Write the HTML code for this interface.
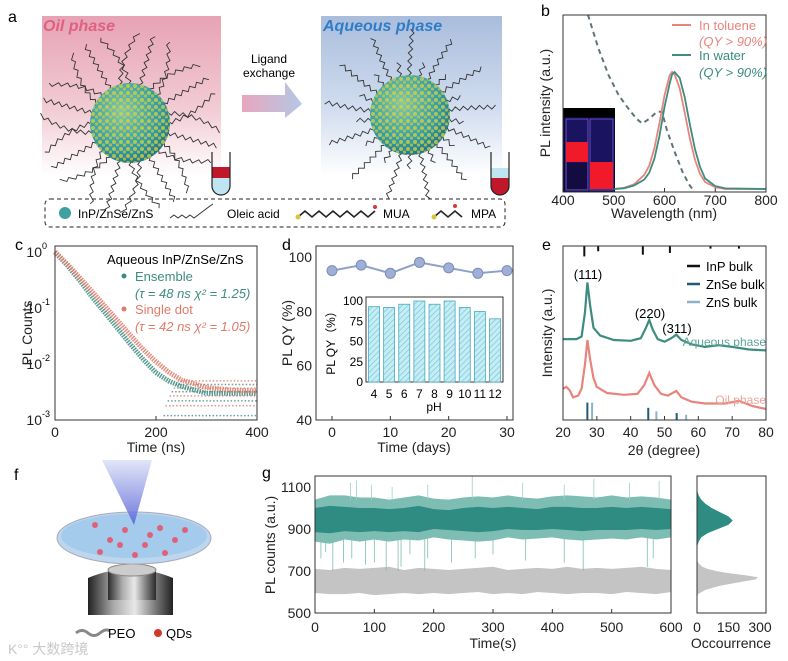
<!DOCTYPE html>
<html><head><meta charset="utf-8">
<style>
html,body{margin:0;padding:0;background:#fff;}
svg{display:block;font-family:"Liberation Sans","Noto Sans CJK SC",sans-serif;}
.t{font-size:14px;fill:#222;}
.s{font-size:13px;fill:#222;}
.ax{fill:none;stroke:#333;stroke-width:1;}
</style></head>
<body>
<svg id="fig" width="788" height="661" viewBox="0 0 788 661">
<defs>
  <linearGradient id="oilg" x1="0" y1="0" x2="0" y2="1"><stop offset="0" stop-color="#e7a2b6"/><stop offset="0.6" stop-color="#f2cdd6"/><stop offset="1" stop-color="#fff"/></linearGradient>
  <linearGradient id="aqg" x1="0" y1="0" x2="0" y2="1"><stop offset="0" stop-color="#a9bddc"/><stop offset="0.6" stop-color="#d3def0"/><stop offset="1" stop-color="#fff"/></linearGradient>
  <linearGradient id="arrg" x1="0" y1="0" x2="1" y2="0"><stop offset="0" stop-color="#e9a6be"/><stop offset="1" stop-color="#b4c8e4"/></linearGradient>
  <radialGradient id="qdg" cx="0.4" cy="0.35" r="0.7"><stop offset="0" stop-color="#7ec8b0"/><stop offset="0.7" stop-color="#2f9aa8"/><stop offset="1" stop-color="#1f6f80"/></radialGradient>
  <pattern id="dots" width="7" height="7" patternUnits="userSpaceOnUse"><circle cx="2" cy="2" r="2" fill="#d9d33a"/><circle cx="5.5" cy="5" r="1.6" fill="#c9c840"/></pattern>
  <pattern id="hatch" width="4" height="4" patternUnits="userSpaceOnUse" patternTransform="rotate(45)"><rect width="4" height="4" fill="#c6edf4"/><line x1="0" y1="0" x2="0" y2="4" stroke="#6cc3d6" stroke-width="1.2"/></pattern>
  <linearGradient id="coneg" x1="0" y1="0" x2="0" y2="1"><stop offset="0" stop-color="#dde2f6"/><stop offset="1" stop-color="#5560d8"/></linearGradient>
  <linearGradient id="objg" x1="0" y1="0" x2="1" y2="0"><stop offset="0" stop-color="#222"/><stop offset="0.3" stop-color="#aaa"/><stop offset="0.55" stop-color="#e8e8e8"/><stop offset="0.8" stop-color="#777"/><stop offset="1" stop-color="#222"/></linearGradient>
</defs>

<!-- Panel a -->
<g>
  <text x="8" y="22" font-size="16">a</text>
  <rect x="42" y="16" width="179" height="160" fill="url(#oilg)"/>
  <rect x="321" y="16" width="181" height="160" fill="url(#aqg)"/>
  <text x="43" y="31" font-size="16" font-weight="bold" font-style="italic" fill="#e0607e">Oil phase</text>
  <text x="323" y="31" font-size="16" font-weight="bold" font-style="italic" fill="#2f7dc6">Aqueous phase</text>
  <g id="ligands"></g>
  <circle cx="130" cy="123" r="40" fill="url(#qdg)"/>
  <circle cx="130" cy="123" r="40" fill="url(#dots)" opacity="0.75"/>
  <circle cx="410" cy="115" r="40" fill="url(#qdg)"/>
  <circle cx="410" cy="115" r="40" fill="url(#dots)" opacity="0.75"/>
  <text x="269" y="63" font-size="12" text-anchor="middle">Ligand</text>
  <text x="269" y="77" font-size="12" text-anchor="middle">exchange</text>
  <path d="M242,95 L285,95 L285,82 L302,104 L285,118 L285,112 L242,112 Z" fill="url(#arrg)"/>
  <g>
    <rect x="212" y="167" width="18" height="11" fill="#c0182a"/>
    <path d="M212,178 L230,178 L230,186 A9,9 0 0 1 212,186 Z" fill="#bfe4f2"/>
    <path d="M212,152 L212,186 A9,9 0 0 0 230,186 L230,152" fill="none" stroke="#222" stroke-width="1.2"/>
  </g>
  <g>
    <rect x="491" y="168" width="18" height="10" fill="#bfe4f2"/>
    <path d="M491,178 L509,178 L509,186 A9,9 0 0 1 491,186 Z" fill="#c0182a"/>
    <path d="M491,152 L491,186 A9,9 0 0 0 509,186 L509,152" fill="none" stroke="#222" stroke-width="1.2"/>
  </g>
  <rect x="45" y="199" width="460" height="28" rx="5" fill="none" stroke="#222" stroke-dasharray="4,3"/>
  <circle cx="65" cy="213" r="6" fill="#3ea0a0"/>
  <text x="78" y="218" font-size="12">InP/ZnSe/ZnS</text>
  <polyline points="170,218 174,215 178,218 182,215 186,218 190,215 194,218 198,215 202,212 206,209 210,206 213,204" fill="none" stroke="#333" stroke-width="1"/>
  <text x="227" y="218" font-size="12">Oleic acid</text>
  <polyline points="298,217 305,211 312,217 319,211 326,217 333,211 340,217 347,211 354,217 361,211 368,217 375,211" fill="none" stroke="#222" stroke-width="1.6"/>
  <circle cx="298" cy="217" r="2.5" fill="#d9c53a"/><circle cx="375" cy="207" r="2" fill="#d33"/>
  <text x="383" y="218" font-size="12">MUA</text>
  <polyline points="434,217 441,211 448,217 455,211 462,217" fill="none" stroke="#222" stroke-width="1.6"/>
  <circle cx="434" cy="217" r="2.5" fill="#d9c53a"/><circle cx="455" cy="206" r="2" fill="#d33"/>
  <text x="471" y="218" font-size="12">MPA</text>
</g>

<!-- Panel b -->
<g>
  <text x="541" y="16" font-size="16">b</text>
  <g>
    <rect x="563" y="108" width="52" height="84" fill="#0a0830"/>
    <rect x="563" y="108" width="52" height="9" fill="#000"/>
    <rect x="566" y="119" width="22" height="71" fill="#1a1460" stroke="#6a50d0" stroke-width="1"/>
    <rect x="590" y="119" width="23" height="71" fill="#1a1460" stroke="#6a50d0" stroke-width="1"/>
    <rect x="566" y="142" width="22" height="20" fill="#f01a2a"/>
    <rect x="590" y="162" width="23" height="27" fill="#f01a2a"/>
    <rect x="567" y="163" width="20" height="26" fill="#120c40"/>
  </g>
  <g id="b-marks"></g>
  <rect x="563" y="15" width="203" height="177" class="ax"/>
  <g id="b-ticks"></g>
  <text x="664" y="218" class="t" text-anchor="middle">Wavelength (nm)</text>
  <text transform="translate(550,103) rotate(-90)" class="t" text-anchor="middle">PL intensity (a.u.)</text>
  <line x1="672" y1="25" x2="691" y2="25" stroke="#e8847c" stroke-width="2"/>
  <text x="699" y="30" font-size="13" fill="#e8847c">In toluene</text>
  <text x="699" y="46" font-size="13" fill="#e8847c" font-style="italic">(QY &gt; 90%)</text>
  <line x1="672" y1="55" x2="691" y2="55" stroke="#3c8c80" stroke-width="2"/>
  <text x="699" y="60" font-size="13" fill="#3c8c80">In water</text>
  <text x="699" y="77" font-size="13" fill="#3c8c80" font-style="italic">(QY &gt; 90%)</text>
</g>

<!-- Panel c -->
<g>
  <text x="15" y="250" font-size="16">c</text>
  <g id="c-marks"></g>
  <rect x="55" y="246" width="202" height="174" class="ax"/>
  <g id="c-ticks"></g>
  <text x="156" y="452" class="t" text-anchor="middle">Time (ns)</text>
  <text transform="translate(32,333) rotate(-90)" class="t" text-anchor="middle">PL Counts</text>
  <text x="107" y="264" font-size="13">Aqueous InP/ZnSe/ZnS</text>
  <circle cx="124" cy="276" r="2.5" fill="#3c8c80"/>
  <text x="135" y="281" font-size="13" fill="#3c8c80">Ensemble</text>
  <text x="135" y="298" font-size="13" fill="#3c8c80" font-style="italic">(τ = 48 ns  χ² = 1.25)</text>
  <circle cx="124" cy="309" r="2.5" fill="#e07a6a"/>
  <text x="135" y="314" font-size="13" fill="#e07a6a">Single dot</text>
  <text x="135" y="331" font-size="13" fill="#e07a6a" font-style="italic">(τ = 42 ns  χ² = 1.05)</text>
</g>

<!-- Panel d -->
<g>
  <text x="282" y="250" font-size="16">d</text>
  <rect x="316" y="246" width="197" height="174" class="ax"/>
  <g id="d-marks"></g>
  <g id="d-ticks"></g>
  <text x="414" y="452" class="t" text-anchor="middle">Time (days)</text>
  <text transform="translate(292,333) rotate(-90)" class="t" text-anchor="middle">PL QY (%)</text>
  <rect x="366" y="297" width="137" height="85" fill="#fff" class="ax"/>
  <g id="di-marks"></g>
  <g id="di-ticks"></g>
  <text x="434" y="411" font-size="12" text-anchor="middle">pH</text>
  <text transform="translate(335,340) rotate(-90)" font-size="12" text-anchor="middle">PL QY（%）</text>
</g>

<!-- Panel e -->
<g>
  <text x="542" y="250" font-size="16">e</text>
  <g id="e-marks"></g>
  <rect x="563" y="246" width="203" height="174" class="ax"/>
  <g id="e-ticks"></g>
  <text x="664" y="455" class="t" text-anchor="middle">2θ (degree)</text>
  <text transform="translate(552,333) rotate(-90)" class="t" text-anchor="middle">Intensity (a.u.)</text>
  <text x="588" y="279" font-size="13" text-anchor="middle">(111)</text>
  <text x="650" y="318" font-size="13" text-anchor="middle">(220)</text>
  <text x="677" y="333" font-size="13" text-anchor="middle">(311)</text>
  <text x="766" y="346" font-size="12" text-anchor="end" fill="#5fa595">Aqueous phase</text>
  <text x="766" y="404" font-size="12" text-anchor="end" fill="#eaa49c">Oil phase</text>
  <line x1="687" y1="266" x2="700" y2="266" stroke="#111" stroke-width="2.5"/>
  <text x="706" y="271" font-size="13">InP bulk</text>
  <line x1="687" y1="284" x2="700" y2="284" stroke="#1f5a78" stroke-width="2.5"/>
  <text x="706" y="289" font-size="13">ZnSe bulk</text>
  <line x1="687" y1="302" x2="700" y2="302" stroke="#8db2c8" stroke-width="2.5"/>
  <text x="706" y="307" font-size="13">ZnS bulk</text>
</g>

<!-- Panel f -->
<g>
  <text x="14" y="480" font-size="16">f</text>
  <g>
    <path d="M88,578 Q130,560 173,578 L173,615 L88,615 Z" fill="url(#objg)"/>
    <rect x="108" y="570" width="48" height="30" fill="url(#objg)" opacity="0.9"/>
    <ellipse cx="132" cy="570" rx="24" ry="6" fill="#ccc" stroke="#888"/>
  </g>
  <ellipse cx="134" cy="538" rx="77" ry="26" fill="#bcd6ee" stroke="#aab"/>
  <ellipse cx="134" cy="536" rx="73" ry="22" fill="#9ec8ea" opacity="0.8"/>
  <g id="qd-dots"></g>
  <path d="M102,460 L152,460 L134,525 Z" fill="url(#coneg)" opacity="0.85"/>
  <path d="M76,633 q6,-5 12,0 t12,0 t10,-2" fill="none" stroke="#888" stroke-width="3"/>
  <text x="108" y="638" font-size="13">PEO</text>
  <circle cx="158" cy="633" r="4" fill="#d03a2a"/>
  <text x="166" y="638" font-size="13">QDs</text>
  <text x="8" y="654" font-size="14" fill="#c8c8c8">K°° 大数跨境</text>
</g>

<!-- Panel g -->
<g>
  <text x="262" y="478" font-size="16">g</text>
  <g id="g-marks"></g>
  <rect x="315" y="476" width="356" height="137" class="ax"/>
  <rect x="697" y="476" width="69" height="137" class="ax"/>
  <g id="g-ticks"></g>
  <text x="493" y="648" class="t" text-anchor="middle">Time(s)</text>
  <text x="731" y="648" class="t" text-anchor="middle">Occourrence</text>
  <text transform="translate(275,545) rotate(-90)" class="t" text-anchor="middle">PL counts (a.u.)</text>
</g>
</svg>

<script>
// ---------- Panel b data ----------
const bWave = [500,520,540,560,570,580,590,600,610,615,620,630,640,650,660,670,680,700,720,800];
const bToluene = [0,0.01,0.04,0.12,0.2,0.35,0.56,0.8,0.97,1.0,0.98,0.86,0.65,0.43,0.25,0.13,0.06,0.015,0,0];
const bWater = [0,0.005,0.03,0.08,0.14,0.26,0.45,0.7,0.9,0.98,1.0,0.95,0.78,0.55,0.34,0.19,0.09,0.025,0.005,0];
const bAbsWave = [449,470,490,510,530,545,556,570,585,595,605,620,635,648,655];
const bAbs = [1.49,1.2,0.97,0.8,0.68,0.6,0.56,0.6,0.66,0.66,0.5,0.32,0.15,0.04,0];
const bXTicks = [400,500,600,700,800];
// ---------- Panel c data ----------
const cTimes = [0,25,50,75,100,125,150,175,200,225,250,300,350,400];
const cEnsemble = [1,0.57,0.3,0.15,0.08,0.042,0.022,0.012,0.007,0.005,0.004,0.003,0.003,0.003];
const cSingle = [1,0.6,0.34,0.19,0.105,0.058,0.032,0.018,0.011,0.0072,0.0052,0.0038,0.0034,0.0033];
const cFloorLevels = [0.0012,0.0018,0.0022,0.0027,0.0032,0.0037,0.0043,0.005];
const cXTicks = [0,200,400];
const cYTicks = [-3,-2,-1,0];
// ---------- Panel d data ----------
const dDays = [0,5,10,15,20,25,30];
const dQY = [95,97,94,98,96,94,95];
const dXTicks = [0,10,20,30];
const dYTicks = [40,60,80,100];
const pH = [4,5,6,7,8,9,10,11,12];
const pHQY = [93,92,96,100,96,100,92,87,78];
const inYTicks = [0,25,50,75,100];
// ---------- Panel e data ----------
const eAqTheta = [20,24,25.5,26.5,27.2,28,29,31,35,40,43,44.5,45.5,46.5,48,50,52,53.5,55,58,62,66,70,75,80];
const eAqI = [46.5,46.5,48,62,79,66,53,48.5,46,45.5,47,53,57.5,52,46.5,45,47,49,46,43.5,42,43,42,40.5,40];
const eOilTheta = [20,21,22,23,24.5,25.5,26.5,27.2,28,29,30,33,38,42,44,45.5,47,49,51,53.5,55,58,62,68,72,76,80];
const eOilI = [18,19,17,13,14,18,32,46,35,24,19,15.5,14.5,15,20,27,20,15,14,16.7,13,10.5,9.5,9.5,11,8,6.3];
const eInP = [26.3,30.4,43.6,51.6,63.6,72];
const eInPH = [6,3,5,4,1.5,1.5];
const eZnSe = [27.2,45.2,53.6];
const eZnSeH = [10,7,4];
const eZnS = [28.6,47.6,56.4];
const eZnSH = [10,5,3];
const eXTicks = [20,30,40,50,60,70,80];
// ---------- Panel g data ----------
const gTimes = [0,25,50,75,100,125,150,175,200,225,250,275,300,325,350,375,400,425,450,475,500,525,550,575,600];
const gTealHi = [1040,1060,1060,1050,1050,1040,1050,1060,1045,1040,1050,1055,1050,1060,1050,1045,1055,1060,1055,1050,1060,1050,1055,1050,1040];
const gTealLo = [840,830,850,840,850,840,850,845,860,850,845,840,845,860,850,855,860,850,845,850,855,850,860,850,860];
const gTealQ3 = [1000,1010,1005,1000,1000,995,1000,1010,995,990,1000,1005,1000,1005,1000,995,1005,1005,1000,1000,1005,1000,1005,1000,995];
const gTealQ1 = [885,880,890,885,890,885,890,885,900,895,890,885,890,900,895,895,900,895,890,895,895,895,900,895,900];
const gGrayHi = [710,705,715,710,715,720,705,715,710,705,710,715,720,705,710,715,710,720,710,715,710,715,720,710,705];
const gGrayLo = [595,590,590,595,585,590,595,590,595,590,595,600,590,595,590,600,595,590,595,595,590,600,595,590,600];
const gDownT = [10,18,30,48,62,85,100,120,140,145,160,185,190,230,270,300,355,420,452,560,570];
const gDownV = [760,790,700,740,760,730,740,700,700,720,780,700,760,740,760,780,750,740,700,720,760];
const gUpT = [60,70,95,130,190,265,350,420,470,530,580];
const gUpV = [1120,1130,1110,1100,1110,1150,1120,1110,1140,1120,1130];
const hTealBins = [800,820,840,860,880,900,920,940,960,980,1000,1020,1040,1060,1080,1100];
const hTealCount = [0,2,8,20,50,100,150,170,150,110,70,40,20,8,2,0];
const hGrayBins = [570,590,610,630,650,660,670,680,690,700,710,720,740,760];
const hGrayCount = [0,5,40,110,220,280,290,230,150,90,50,25,5,0];
const gXTicks = [0,100,200,300,400,500,600];
const gYTicks = [500,700,900,1100];
const hXTicks = [0,150,300];

const NS = 'http://www.w3.org/2000/svg';
function mk(parent, tag, attrs, text) {
  const el = document.createElementNS(NS, tag);
  for (const k in attrs) el.setAttribute(k, attrs[k]);
  if (text !== undefined) el.textContent = text;
  document.getElementById(parent).appendChild(el);
  return el;
}
function pts(xs, ys, fx, fy) { return xs.map((x, i) => fx(x).toFixed(1) + ',' + fy(ys[i]).toFixed(1)).join(' '); }

// ---------- Panel a decorative ligands ----------
(function(){
  function chain(cx, cy, r, ang, len, bend, color) {
    let p = [];
    const n = Math.floor(len / 4);
    for (let i = 0; i <= n; i++) {
      const a = ang + bend * i / n;
      const rr = r + i * 4;
      const off = (i % 2 ? 2 : -2);
      p.push((cx + rr * Math.cos(a) - off * Math.sin(a)).toFixed(1) + ',' + (cy + rr * Math.sin(a) + off * Math.cos(a)).toFixed(1));
    }
    const el = mk('ligands', 'polyline', {points: p.join(' '), fill: 'none', stroke: color, 'stroke-width': 0.9});
    
    
  }
  for (let i = 0; i < 24; i++) chain(130, 123, 38, i * Math.PI * 2 / 24, 52, (i % 3 - 1) * 0.35, '#333');
  for (let i = 0; i < 26; i++) chain(410, 115, 38, i * Math.PI * 2 / 26 + 0.1, i % 2 ? 50 : 18, 0.05, '#333');
})();

// ---------- Panel b ----------
const bx = w => 563 + (w - 400) / 400 * 203;
const by = v => 189 - v * 117;
let el;
el = mk('b-marks', 'polyline', {points: pts(bAbsWave, bAbs, bx, by), fill: 'none', stroke: '#5f7478', 'stroke-width': 2, 'stroke-dasharray': '5,4'});


el = mk('b-marks', 'polyline', {points: pts(bWave, bToluene, bx, by), fill: 'none', stroke: '#e8847c', 'stroke-width': 1.8});


el = mk('b-marks', 'polyline', {points: pts(bWave, bWater, bx, by), fill: 'none', stroke: '#3c8c80', 'stroke-width': 1.8});


bXTicks.forEach(t => {
  el = mk('b-ticks', 'line', {x1: bx(t), x2: bx(t), y1: 192, y2: 188, stroke: '#333'});
  
  
  el = mk('b-ticks', 'text', {x: bx(t), y: 205, class: 't', 'text-anchor': 'middle'}, t);
  
  
});

// ---------- Panel c ----------
const cx = t => 55 + t / 400 * 202;
const cy = v => 420 - (Math.log10(v) + 3) / 3 * 168;
cFloorLevels.forEach((lv, i) => {
  el = mk('c-marks', 'line', {x1: cx(215 + i * 4), x2: cx(400), y1: cy(lv), y2: cy(lv), stroke: i % 2 ? '#e07a6a' : '#3c8c80', 'stroke-width': 1.5, 'stroke-dasharray': '1.5,2', opacity: 0.8});
  
  
});
el = mk('c-marks', 'polyline', {points: pts(cTimes, cEnsemble, cx, cy), fill: 'none', stroke: '#3c8c80', 'stroke-width': 5, 'stroke-dasharray': '1.5,1', opacity: 0.85});


el = mk('c-marks', 'polyline', {points: pts(cTimes, cSingle, cx, cy), fill: 'none', stroke: '#e07a6a', 'stroke-width': 5, 'stroke-dasharray': '1.5,1', opacity: 0.85});


cXTicks.forEach(t => {
  el = mk('c-ticks', 'line', {x1: cx(t), x2: cx(t), y1: 420, y2: 416, stroke: '#333'});
  
  
  el = mk('c-ticks', 'text', {x: cx(t), y: 437, class: 't', 'text-anchor': 'middle'}, t);
  
  
});
cYTicks.forEach(e => {
  const y = cy(Math.pow(10, e));
  el = mk('c-ticks', 'text', {x: 42, y: y + 5, class: 't', 'text-anchor': 'end'}, '10');
  
  
  el = mk('c-ticks', 'text', {x: 42, y: y - 3, 'font-size': 9}, e);
  
  
});

// ---------- Panel d ----------
const dx = t => 332 + t / 30 * 175;
const dy = v => 420 - (v - 40) / 60 * 163;
el = mk('d-marks', 'polyline', {points: pts(dDays, dQY, dx, dy), fill: 'none', stroke: '#8ea2c8', 'stroke-width': 2});


dDays.forEach((d, i) => {
  el = mk('d-marks', 'circle', {cx: dx(d), cy: dy(dQY[i]), r: 5, fill: '#9fb0d6', stroke: '#7a8cbc'});
  
  
});
dXTicks.forEach(t => {
  el = mk('d-ticks', 'line', {x1: dx(t), x2: dx(t), y1: 420, y2: 416, stroke: '#333'});
  
  
  el = mk('d-ticks', 'text', {x: dx(t), y: 437, class: 't', 'text-anchor': 'middle'}, t);
  
  
});
dYTicks.forEach(v => {
  el = mk('d-ticks', 'text', {x: 312, y: dy(v) + 5, class: 't', 'text-anchor': 'end'}, v);
  
  
});
const ix = p => 374 + (p - 4) / 8 * 121;
const iy = v => 382 - v / 100 * 81;
pH.forEach((p, i) => {
  el = mk('di-marks', 'rect', {x: ix(p) - 5.5, y: iy(pHQY[i]), width: 11, height: 382 - iy(pHQY[i]), fill: 'url(#hatch)', stroke: '#4aa8c0', 'stroke-width': 0.8});
  
  
  el = mk('di-ticks', 'text', {x: ix(p), y: 398, 'font-size': 12, 'text-anchor': 'middle'}, p);
  
  
});
inYTicks.forEach(v => {
  el = mk('di-ticks', 'text', {x: 363, y: iy(v) + 4, 'font-size': 12, 'text-anchor': 'end'}, v);
  
  
});

// ---------- Panel e ----------
const ex = t => 563 + (t - 20) / 60 * 203;
const ey = v => 420 - v * 1.74;
el = mk('e-marks', 'polyline', {points: pts(eAqTheta, eAqI, ex, ey), fill: 'none', stroke: '#3c8c80', 'stroke-width': 2.2});


el = mk('e-marks', 'polyline', {points: pts(eOilTheta, eOilI, ex, ey), fill: 'none', stroke: '#e8847c', 'stroke-width': 2.2});


eInP.forEach((t, i) => {
  el = mk('e-marks', 'line', {x1: ex(t), x2: ex(t), y1: 246, y2: 246 + eInPH[i] * 1.74, stroke: '#111', 'stroke-width': 2});
  
  
});
eZnSe.forEach((t, i) => {
  el = mk('e-marks', 'line', {x1: ex(t), x2: ex(t), y1: 420, y2: 420 - eZnSeH[i] * 1.74, stroke: '#1f5a78', 'stroke-width': 2});
  
  
});
eZnS.forEach((t, i) => {
  el = mk('e-marks', 'line', {x1: ex(t), x2: ex(t), y1: 420, y2: 420 - eZnSH[i] * 1.74, stroke: '#8db2c8', 'stroke-width': 2});
  
  
});
eXTicks.forEach(t => {
  el = mk('e-ticks', 'line', {x1: ex(t), x2: ex(t), y1: 420, y2: 416, stroke: '#333'});
  
  
  el = mk('e-ticks', 'text', {x: ex(t), y: 437, class: 't', 'text-anchor': 'middle'}, t);
  
  
});

// ---------- Panel f QD dots (decorative) ----------
[[95,525],[110,540],[125,530],[145,545],[160,528],[175,540],[100,552],[135,555],[165,553],[185,530],[120,545],[150,535]].forEach(p => {
  el = mk('qd-dots', 'circle', {cx: p[0], cy: p[1], r: 3, fill: '#e0607a'});
  
  
});

// ---------- Panel g ----------
const gx = t => 315 + t / 600 * 356;
const gy = c => 613 - (c - 500) * 0.21;
function band(hi, lo, color) {
  const up = gTimes.map((t, i) => gx(t).toFixed(1) + ',' + gy(hi[i]).toFixed(1));
  const dn = gTimes.map((t, i) => gx(t).toFixed(1) + ',' + gy(lo[i]).toFixed(1)).reverse();
  return mk('g-marks', 'polygon', {points: up.concat(dn).join(' '), fill: color});
}
el = band(gGrayHi, gGrayLo, '#c4c4c4');


el = band(gTealHi, gTealLo, '#7dbdb3');


el = band(gTealQ3, gTealQ1, '#2e8c82');


gDownT.forEach((t, i) => {
  el = mk('g-marks', 'line', {x1: gx(t), x2: gx(t), y1: gy(880), y2: gy(gDownV[i]), stroke: '#7dbdb3', 'stroke-width': 0.8});
  
  
});
gUpT.forEach((t, i) => {
  el = mk('g-marks', 'line', {x1: gx(t), x2: gx(t), y1: gy(1040), y2: gy(gUpV[i]), stroke: '#9fcfc7', 'stroke-width': 0.8});
  
  
});
const hx = n => 697 + n / 300 * 63;
function hist(bins, counts, color) {
  const p = bins.map((b, i) => hx(counts[i]).toFixed(1) + ',' + gy(b).toFixed(1));
  p.push(hx(0) + ',' + gy(bins[bins.length - 1]).toFixed(1));
  p.unshift(hx(0) + ',' + gy(bins[0]).toFixed(1));
  return mk('g-marks', 'polygon', {points: p.join(' '), fill: color});
}
el = hist(hTealBins, hTealCount, '#2e8c82');


el = hist(hGrayBins, hGrayCount, '#c4c4c4');


gXTicks.forEach(t => {
  el = mk('g-ticks', 'line', {x1: gx(t), x2: gx(t), y1: 613, y2: 609, stroke: '#333'});
  
  
  el = mk('g-ticks', 'text', {x: gx(t), y: 632, class: 't', 'text-anchor': 'middle'}, t);
  
  
});
gYTicks.forEach(v => {
  el = mk('g-ticks', 'text', {x: 311, y: gy(v) + 5, class: 't', 'text-anchor': 'end'}, v);
  
  
});
hXTicks.forEach(n => {
  el = mk('g-ticks', 'text', {x: hx(n), y: 632, class: 't', 'text-anchor': 'middle'}, n);
  
  
});
</script>
</body></html>
